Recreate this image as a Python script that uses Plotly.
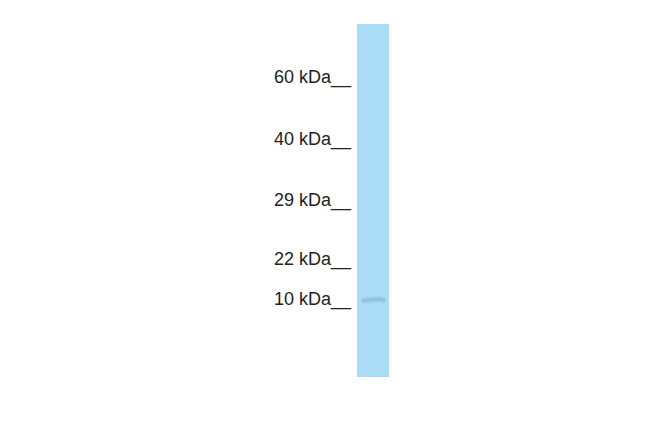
import plotly.graph_objects as go

# Data
lane_names = ["Lane 1"]
marker_labels = ["60 kDa", "40 kDa", "29 kDa", "22 kDa", "10 kDa"]
marker_rf = [0.150, 0.325, 0.498, 0.664, 0.778]   # relative migration (0 = top of lane, 1 = bottom)
band_x = [0.15, 0.3, 0.45, 0.6, 0.75, 0.88]       # across the lane width
band_rf = [0.786, 0.782, 0.781, 0.780, 0.780, 0.784]

LANE = "rgb(170, 220, 246)"
BAND = "rgb(120, 165, 205)"

fig = go.Figure()
fig.add_trace(go.Bar(x=[0.5], y=[1], base=0, width=1, marker=dict(color=LANE, line=dict(width=0)),
                     name=lane_names[0], hoverinfo="skip"))
# blurred band: layered lines
for w, op in [(7, 0.08), (5, 0.12), (3, 0.2), (1.5, 0.25)]:
    fig.add_trace(go.Scatter(x=band_x, y=band_rf, mode="lines", line=dict(color=BAND, width=w, shape="spline"),
                             opacity=op, hoverinfo="skip"))

fig.update_layout(
    width=650, height=433,
    margin=dict(l=349, r=269, t=16, b=64),
    paper_bgcolor="white", plot_bgcolor="white",
    showlegend=False, bargap=0,
    font=dict(family="Liberation Sans, Arial, sans-serif", size=18, color="#222"),
)
fig.update_xaxes(range=[0, 1], showgrid=False, zeroline=False, showticklabels=False, showline=False, fixedrange=True)
fig.update_yaxes(range=[1, 0], showgrid=False, zeroline=False, showline=False,
                 tickmode="array", tickvals=marker_rf, ticktext=[t + "__" for t in marker_labels],
                 ticks="", ticklabelstandoff=5, tickfont=dict(size=18, color="#222"))

fig.write_html("out.html")
